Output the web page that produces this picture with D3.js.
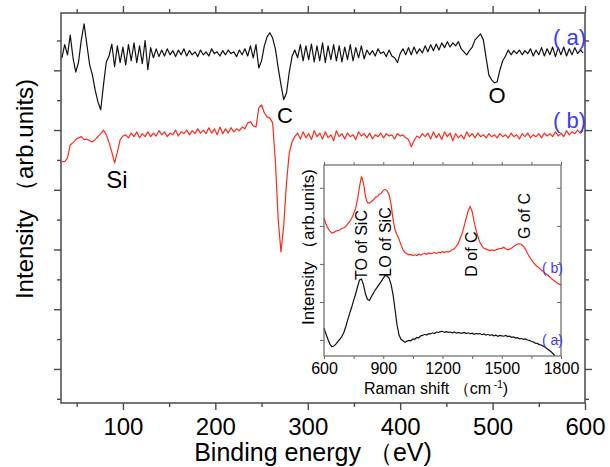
<!DOCTYPE html>
<html><head><meta charset="utf-8">
<script src="https://cdn.jsdelivr.net/npm/d3@7"></script>
<style>body{margin:0;background:#fff}</style>
</head><body><svg id="c" width="610" height="467"></svg>
<script>
// ---------- DATA ----------
const xpsEnergy = d3.range(34, 601, 3); // binding energy grid (eV)
const xpsA = [
 52.1,54.3,52.6,55.9,52.1,49.7,51.4,55.1,57.8,54.3,
 50.9,49.2,46.7,44.7,43.4,47.6,51.4,52.4,54.4,50.6,
 54.1,51.3,53.9,50.9,54.3,51.6,54.6,51.3,54.1,51.1,
 55.0,50.1,53.8,52.1,53.6,52.3,53.4,52.4,53.6,52.6,
 53.3,52.3,53.4,52.6,53.6,52.4,53.3,52.6,53.1,52.3,
 53.4,52.6,53.1,52.4,53.6,52.8,53.1,52.4,53.3,52.6,
 53.4,52.8,53.1,52.3,53.4,52.6,53.6,52.4,54.1,52.1,
 54.3,50.4,51.6,54.1,55.6,56.3,55.4,53.6,50.4,47.6,
 45.1,46.2,49.7,52.3,53.4,52.1,54.3,51.6,54.1,51.8,
 54.4,51.4,54.1,51.6,54.6,51.3,54.1,51.8,54.3,51.6,
 54.1,51.4,53.9,51.8,54.3,51.6,53.8,52.1,54.1,51.9,
 53.4,52.6,53.3,52.4,53.6,52.8,53.1,52.3,53.4,52.4,
 52.1,51.3,52.8,53.6,52.6,53.8,52.6,53.9,52.8,53.6,
 52.9,54.1,53.1,54.3,53.3,54.4,53.4,54.6,53.8,54.8,
 53.9,54.6,54.1,54.8,53.6,53.1,52.6,53.3,53.9,55.1,
 55.6,56.1,55.1,52.1,49.2,48.4,47.9,48.1,50.1,51.6,
 52.4,53.4,52.6,53.3,52.8,53.4,52.6,53.3,52.8,53.6,
 52.4,53.4,52.6,53.8,52.4,53.6,52.6,53.9,52.3,53.8,
 52.6,53.9,52.4,53.6,52.6,53.8,52.8,53.4,52.9
];
const xpsB = [
 34.7,34.7,35.3,37.5,37.9,38.4,38.7,38.9,38.4,38.5,
 38.2,38.0,38.4,38.9,39.4,40.0,39.2,37.9,36.3,34.5,
 36.3,38.4,39.0,39.2,38.7,39.5,38.9,39.7,38.7,39.4,
 38.9,39.7,38.9,39.5,39.0,39.9,39.2,39.7,38.9,39.5,
 39.2,40.0,39.0,39.7,39.4,40.0,39.2,39.9,39.4,40.2,
 39.5,40.0,39.4,40.4,39.5,40.2,39.2,40.5,39.4,40.2,
 39.5,40.4,39.7,40.2,39.9,40.5,40.2,41.2,41.4,40.7,
 40.5,43.7,44.2,42.9,42.2,42.0,41.2,34.7,25.0,19.6,
 24.0,31.2,36.2,38.0,38.9,39.5,38.5,39.7,38.7,39.4,
 38.4,39.9,38.9,39.5,38.5,39.7,38.7,39.2,38.2,39.9,
 38.9,39.4,38.5,39.5,38.9,39.2,38.4,39.7,39.0,39.4,
 38.7,39.5,38.5,39.2,38.9,39.5,38.7,39.4,39.0,39.2,
 38.5,39.4,39.0,39.2,38.7,38.4,37.2,38.2,39.0,38.7,
 39.4,38.9,39.5,38.5,39.7,38.7,39.4,38.4,39.7,38.9,
 39.5,38.2,39.4,38.7,39.2,38.5,39.7,38.9,39.4,38.7,
 39.5,38.9,39.2,38.7,39.4,38.9,39.2,38.7,39.4,38.9,
 39.2,38.7,39.5,38.9,39.2,38.5,39.4,38.9,39.5,38.7,
 39.2,38.9,39.4,38.7,39.5,39.0,39.4,38.9,39.7,39.0,
 39.5,38.9,39.9,39.2,39.7,39.4,40.0,39.5,39.9
];
const ramanShiftB = d3.range(600, 1801, 10);
const ramanB = [
 4.20,4.05,3.94,3.86,3.81,3.83,3.86,3.88,3.89,3.93,
 3.95,3.98,4.05,4.11,4.20,4.32,4.46,4.70,5.04,5.30,
 5.12,4.77,4.61,4.60,4.64,4.68,4.75,4.77,4.83,4.86,
 4.93,4.96,4.92,4.81,4.55,4.16,3.89,3.76,3.65,3.50,
 3.37,3.30,3.27,3.24,3.25,3.22,3.24,3.22,3.26,3.23,
 3.26,3.28,3.25,3.29,3.27,3.28,3.30,3.27,3.31,3.29,
 3.32,3.30,3.33,3.31,3.34,3.37,3.40,3.46,3.54,3.68,
 3.81,4.00,4.20,4.40,4.51,4.38,4.11,3.89,3.70,3.56,
 3.47,3.41,3.39,3.37,3.35,3.37,3.35,3.37,3.39,3.40,
 3.41,3.44,3.40,3.37,3.39,3.42,3.46,3.49,3.52,3.53,
 3.51,3.46,3.39,3.28,3.19,3.11,3.04,2.97,2.93,2.89,
 2.84,2.80,2.75,2.72,2.67,2.62,2.58,2.54,2.50,2.47,
 2.45
];
const ramanShiftA = d3.range(600, 1771, 10);
const ramanA = [
 1.31,1.16,1.02,0.89,0.82,0.84,0.89,0.96,1.02,1.09,
 1.19,1.35,1.53,1.70,1.86,2.04,2.21,2.40,2.58,2.60,
 2.45,2.21,2.07,2.04,2.14,2.23,2.32,2.39,2.47,2.54,
 2.62,2.70,2.68,2.62,2.45,2.18,1.79,1.39,1.13,1.02,
 0.98,0.94,0.97,0.99,0.98,1.03,1.02,1.07,1.06,1.11,
 1.12,1.15,1.13,1.17,1.16,1.19,1.17,1.21,1.20,1.22,
 1.23,1.20,1.22,1.20,1.21,1.19,1.21,1.18,1.20,1.18,
 1.18,1.20,1.17,1.19,1.16,1.18,1.15,1.17,1.16,1.17,
 1.14,1.16,1.13,1.15,1.12,1.14,1.11,1.13,1.10,1.12,
 1.11,1.10,1.12,1.09,1.10,1.07,1.08,1.05,1.06,1.03,
 1.04,1.02,1.03,1.00,0.99,0.96,0.95,0.92,0.91,0.88,
 0.87,0.84,0.81,0.77,0.73,0.69,0.64,0.59
];
const xpsMajorTicks = [100, 200, 300, 400, 500, 600];
const xpsMinorTicks = [50, 150, 250, 350, 450, 550];
const yMajorTicks = [0, 10, 20, 30, 40, 50];
const yMinorTicks = [-5, 5, 15, 25, 35, 45, 55];
const ramanLabelTicks = [600, 900, 1200, 1500, 1800];
const ramanMinorTicks = [750, 1050, 1350, 1650];
const ramanYTicks = [1, 2, 3, 4, 5];
const seriesNames = ["( a)", "( b)"];
const xpsPeakNames = ["Si", "C", "O"];
const ramanPeakNames = ["TO of SiC", "LO of SiC", "D of C", "G of C"];

if (xpsA.length !== xpsEnergy.length || xpsB.length !== xpsEnergy.length ||
    ramanB.length !== ramanShiftB.length || ramanA.length !== ramanShiftA.length) {
  throw new Error("length mismatch");
}

// ---------- DRAW ----------
const FONT = "'Liberation Sans', Arial, Helvetica, sans-serif";
const AX = "#4a4a4a";
const RED = "#ff2b1c";
const BLUE = "#3a3aff";
const svg = d3.select("#c");
svg.append("rect").attr("width", 610).attr("height", 467).attr("fill", "#fff");

const x = d3.scaleLinear().domain([33, 600]).range([61, 585]);
const y = d3.scaleLinear().domain([-5.7, 59.6]).range([403, 13]);

function tidy(g, col, w) {
  g.select(".domain").remove();
  g.selectAll(".tick line").attr("stroke", col).attr("stroke-width", w);
  g.attr("font-family", FONT);
  g.selectAll(".tick text").attr("fill", "#000");
}
const none = () => "";

// main axes
svg.append("g").attr("transform", "translate(0,403)")
  .call(d3.axisBottom(x).tickValues(xpsMajorTicks).tickSize(7).tickPadding(8).tickFormat(d3.format("d")))
  .call(g => tidy(g, AX, 1.4)).attr("font-size", 24);
svg.append("g").attr("transform", "translate(0,403)")
  .call(d3.axisBottom(x).tickValues(xpsMinorTicks).tickSize(4).tickFormat(none)).call(g => tidy(g, AX, 1.4));
svg.append("g").attr("transform", "translate(0,13)")
  .call(d3.axisTop(x).tickValues(xpsMajorTicks).tickSize(7).tickFormat(none)).call(g => tidy(g, AX, 1.4));
svg.append("g").attr("transform", "translate(0,13)")
  .call(d3.axisTop(x).tickValues(xpsMinorTicks).tickSize(4).tickFormat(none)).call(g => tidy(g, AX, 1.4));
svg.append("g").attr("transform", "translate(61,0)")
  .call(d3.axisLeft(y).tickValues(yMajorTicks).tickSize(7).tickFormat(none)).call(g => tidy(g, AX, 1.4));
svg.append("g").attr("transform", "translate(61,0)")
  .call(d3.axisLeft(y).tickValues(yMinorTicks).tickSize(4).tickFormat(none)).call(g => tidy(g, AX, 1.4));
svg.append("g").attr("transform", "translate(585,0)")
  .call(d3.axisRight(y).tickValues(yMajorTicks).tickSize(7).tickFormat(none)).call(g => tidy(g, AX, 1.4));
svg.append("g").attr("transform", "translate(585,0)")
  .call(d3.axisRight(y).tickValues(yMinorTicks).tickSize(4).tickFormat(none)).call(g => tidy(g, AX, 1.4));
svg.append("rect").attr("x", x.range()[0]).attr("y", y.range()[1])
  .attr("width", x.range()[1] - x.range()[0]).attr("height", y.range()[0] - y.range()[1])
  .attr("fill", "none").attr("stroke", AX).attr("stroke-width", 1.5);

// main curves
const lineXps = d3.line().x((d, i) => x(xpsEnergy[i])).y(d => y(d));
svg.append("path").datum(xpsB).attr("d", lineXps).attr("fill", "none").attr("stroke", RED).attr("stroke-width", 1.2).attr("stroke-linejoin", "round");
svg.append("path").datum(xpsA).attr("d", lineXps).attr("fill", "none").attr("stroke", "#111").attr("stroke-width", 1.2).attr("stroke-linejoin", "round");

// main labels
function txt(parent, t, attrs) {
  const e = parent.append("text").text(t).attr("font-family", FONT);
  for (const k in attrs) e.attr(k, attrs[k]);
  return e;
}
txt(svg, "Intensity （arb.units)", {transform: "translate(33,189) rotate(-90)", "text-anchor": "middle", "font-size": 24});
txt(svg, "Binding energy （eV)", {x: 313, y: 461, "text-anchor": "middle", "font-size": 25});
txt(svg, seriesNames[0], {x: 586, y: 45, "text-anchor": "end", "font-size": 22, fill: BLUE});
txt(svg, seriesNames[1], {x: 586, y: 128, "text-anchor": "end", "font-size": 22, fill: BLUE});
txt(svg, xpsPeakNames[0], {x: 117, y: 188, "text-anchor": "middle", "font-size": 24});
txt(svg, xpsPeakNames[1], {x: 285, y: 123, "text-anchor": "middle", "font-size": 22});
txt(svg, xpsPeakNames[2], {x: 497, y: 103, "text-anchor": "middle", "font-size": 22});

// ---------- INSET ----------
const xr = d3.scaleLinear().domain([600, 1800]).range([324, 561]);
const yr = d3.scaleLinear().domain([0.58, 5.6]).range([356, 165]);
const IAX = "#666";
svg.append("rect").attr("x", 324).attr("y", 165).attr("width", 237).attr("height", 191).attr("fill", "#fff");

const lineRB = d3.line().x((d, i) => xr(ramanShiftB[i])).y(d => yr(d));
const lineRA = d3.line().x((d, i) => xr(ramanShiftA[i])).y(d => yr(d));
svg.append("path").datum(ramanB).attr("d", lineRB).attr("fill", "none").attr("stroke", RED).attr("stroke-width", 1.2);
svg.append("path").datum(ramanA).attr("d", lineRA).attr("fill", "none").attr("stroke", "#111").attr("stroke-width", 1.2);

svg.append("g").attr("transform", "translate(0,356)")
  .call(d3.axisBottom(xr).tickValues(ramanLabelTicks).tickSize(3).tickPadding(4).tickFormat(d3.format("d")))
  .call(g => tidy(g, IAX, 1)).attr("font-size", 16);
svg.append("g").attr("transform", "translate(0,356)")
  .call(d3.axisBottom(xr).tickValues(ramanMinorTicks).tickSize(3).tickFormat(none)).call(g => tidy(g, IAX, 1));
svg.append("g").attr("transform", "translate(0,165)")
  .call(d3.axisTop(xr).tickValues(ramanLabelTicks.concat(ramanMinorTicks)).tickSize(3).tickFormat(none)).call(g => tidy(g, IAX, 1));
svg.append("g").attr("transform", "translate(324,0)")
  .call(d3.axisLeft(yr).tickValues(ramanYTicks).tickSize(4).tickFormat(none)).call(g => tidy(g, IAX, 1));
svg.append("g").attr("transform", "translate(561,0)")
  .call(d3.axisLeft(yr).tickValues(ramanYTicks).tickSize(4).tickFormat(none)).call(g => tidy(g, IAX, 1));
svg.append("rect").attr("x", 324).attr("y", 165).attr("width", 237).attr("height", 191)
  .attr("fill", "none").attr("stroke", IAX).attr("stroke-width", 1.2);

txt(svg, "Intensity （arb.units)", {transform: "translate(314,247) rotate(-90)", "text-anchor": "middle", "font-size": 17});
const rl = txt(svg, "Raman shift （cm", {x: 436, y: 394, "text-anchor": "middle", "font-size": 16});
rl.append("tspan").attr("dy", -6).attr("font-size", 10).text(" -1");
rl.append("tspan").attr("dy", 6).text(")");

function peakLabel(t, cx, cy) {
  txt(svg, t, {transform: `translate(${cx},${cy}) rotate(-90)`, "text-anchor": "middle", "font-size": 16});
}
peakLabel(ramanPeakNames[0], 367, 245);
peakLabel(ramanPeakNames[1], 391, 242);
peakLabel(ramanPeakNames[2], 477, 254);
peakLabel(ramanPeakNames[3], 530, 216);

txt(svg, seriesNames[1], {x: 542, y: 273, "font-size": 14, fill: BLUE});
txt(svg, seriesNames[0], {x: 542, y: 345, "font-size": 14, fill: BLUE});
</script>
</body></html>
